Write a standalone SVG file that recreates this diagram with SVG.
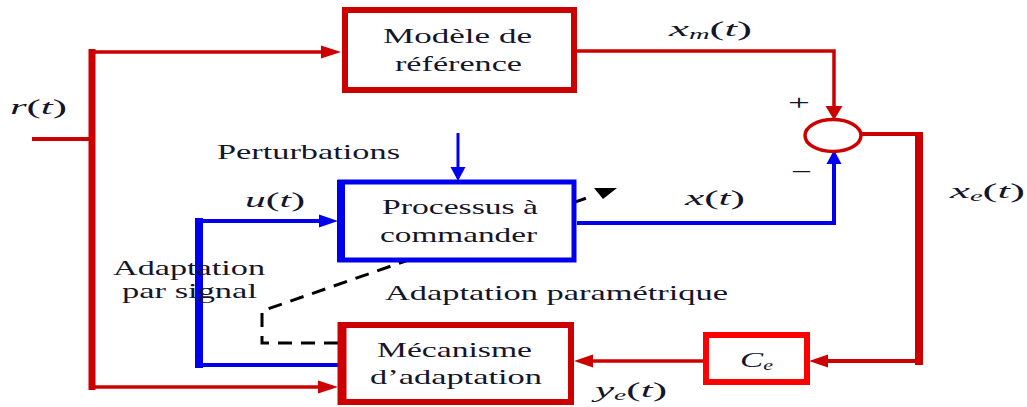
<svg xmlns="http://www.w3.org/2000/svg" width="1027" height="407" viewBox="0 0 1027 407">
  <style>
    .lbl { font-family: "Liberation Serif", "Times New Roman", serif; font-size: 22px; fill: #15152a; }
    .math { font-family: "Liberation Serif", "Times New Roman", serif; font-size: 22px; fill: #15152a; }
    .it { font-style: italic; }
    .sub { font-style: italic; font-size: 14px; }
    .red { stroke: #cc0000; fill: none; }
    .blue { stroke: #0000ee; fill: none; }
    .dash { stroke: #000; fill: none; stroke-width: 3; stroke-dasharray: 14 9; }
    .box-red { fill: #fff; stroke: #cc0000; stroke-width: 6; }
    .box-blue { fill: #fff; stroke: #0000ee; stroke-width: 5; }
    .box-ce { fill: #fff; stroke: #ff0000; stroke-width: 6; }
    .ahr { fill: #cc0000; }
    .ahb { fill: #0000ee; }
  </style>

  <!-- signal paths -->
  <g id="connectors">
    <!-- reference input r(t) and its trunk -->
    <line class="red" x1="32" y1="139" x2="92" y2="139" stroke-width="4"/>
    <line class="red" x1="92" y1="49" x2="92" y2="390" stroke-width="7"/>
    <line class="red" x1="92" y1="52" x2="322" y2="52" stroke-width="3.5"/>
    <polygon class="ahr" points="341,52 321,45.5 321,58.5"/>
    <line class="red" x1="92" y1="387" x2="319" y2="387" stroke-width="3.5"/>
    <polygon class="ahr" points="338,387 318,380.5 318,393.5"/>

    <!-- model output x_m(t) to the summing junction -->
    <polyline class="red" points="577,51 834,51 834,107" stroke-width="3.5"/>
    <polygon class="ahr" points="834,120 825.5,106 842.5,106"/>

    <!-- error x_e(t) back through C_e -->
    <line class="red" x1="861" y1="134" x2="919" y2="134" stroke-width="4"/>
    <line class="red" x1="919" y1="132" x2="919" y2="365" stroke-width="8"/>
    <line class="red" x1="919" y1="361" x2="826" y2="361" stroke-width="4"/>
    <polygon class="ahr" points="809,361 828,354.5 828,367.5"/>
    <line class="red" x1="703" y1="361" x2="591" y2="361" stroke-width="3.5"/>
    <polygon class="ahr" points="574,361 593,354.5 593,367.5"/>

    <!-- disturbance input -->
    <line class="blue" x1="458" y1="133" x2="458" y2="168" stroke-width="3"/>
    <polygon class="ahb" points="458,181 450.5,167 465.5,167"/>

    <!-- plant output x(t) -->
    <polyline class="blue" points="577,223 834,223 834,163" stroke-width="4"/>
    <polygon class="ahb" points="834,150 826.5,164 841.5,164"/>

    <!-- signal adaptation u(t) -->
    <polyline class="blue" points="338,365 199,365" stroke-width="4"/>
    <line class="blue" x1="199" y1="218" x2="199" y2="368" stroke-width="8"/>
    <line class="blue" x1="199" y1="221" x2="320" y2="221" stroke-width="4"/>
    <polygon class="ahb" points="338,221 319,214.5 319,227.5"/>

    <!-- parametric adaptation (passes beneath the plant block) -->
    <polyline class="dash" points="338,343 262,343 262,311 588,197.5"/>
    <polygon fill="#000" points="594,188 617,188 603,199"/>
  </g>

  <!-- reference model -->
  <g id="node-modele">
    <rect class="box-red" x="345" y="10" width="229" height="80"/>
    <text class="lbl" x="383" y="43" textLength="149" lengthAdjust="spacingAndGlyphs">Modèle de</text>
    <text class="lbl" x="395" y="71" textLength="127" lengthAdjust="spacingAndGlyphs">référence</text>
  </g>

  <!-- plant -->
  <g id="node-processus">
    <rect class="box-blue" x="340" y="182" width="234" height="78"/>
    <line stroke="#0000ee" stroke-width="8" x1="341" y1="180" x2="341" y2="262"/>
    <text class="lbl" x="382" y="214" textLength="156" lengthAdjust="spacingAndGlyphs">Processus à</text>
    <text class="lbl" x="380" y="242" textLength="157" lengthAdjust="spacingAndGlyphs">commander</text>
  </g>

  <!-- adaptation mechanism -->
  <g id="node-mecanisme">
    <rect class="box-red" x="341" y="325" width="230" height="77"/>
    <line stroke="#cc0000" stroke-width="9" x1="342" y1="322" x2="342" y2="405"/>
    <text class="lbl" x="377" y="357" textLength="155" lengthAdjust="spacingAndGlyphs">Mécanisme</text>
    <text class="lbl" x="370" y="384" textLength="172" lengthAdjust="spacingAndGlyphs">d’adaptation</text>
  </g>

  <!-- error gain -->
  <g id="node-ce">
    <rect class="box-ce" x="706" y="335" width="101" height="47"/>
    <text class="math" x="740" y="367" textLength="33" lengthAdjust="spacingAndGlyphs"><tspan class="it">C</tspan><tspan class="sub" dy="3">e</tspan></text>
  </g>

  <!-- summing junction -->
  <g id="node-somme">
    <ellipse cx="833" cy="135.5" rx="28" ry="16" fill="#fff" stroke="#cc0000" stroke-width="3.5"/>
    <text class="lbl" x="788" y="110" textLength="22" lengthAdjust="spacingAndGlyphs">+</text>
    <text class="lbl" x="791" y="179" textLength="21" lengthAdjust="spacingAndGlyphs">−</text>
  </g>

  <!-- free labels -->
  <g id="labels">
    <text class="lbl" x="217" y="159" textLength="183" lengthAdjust="spacingAndGlyphs">Perturbations</text>
    <text class="lbl" x="113" y="275" textLength="152" lengthAdjust="spacingAndGlyphs">Adaptation</text>
    <text class="lbl" x="122" y="298" textLength="135" lengthAdjust="spacingAndGlyphs">par signal</text>
    <text class="lbl" x="385" y="300" textLength="343" lengthAdjust="spacingAndGlyphs">Adaptation paramétrique</text>

    <text class="math" x="10" y="114" textLength="57" lengthAdjust="spacingAndGlyphs"><tspan class="it">r</tspan>(<tspan class="it">t</tspan>)</text>
    <text class="math" x="669" y="36" textLength="83" lengthAdjust="spacingAndGlyphs"><tspan class="it">x</tspan><tspan class="sub" dy="3">m</tspan><tspan dy="-3">(</tspan><tspan class="it">t</tspan>)</text>
    <text class="math" x="685" y="205" textLength="60" lengthAdjust="spacingAndGlyphs"><tspan class="it">x</tspan>(<tspan class="it">t</tspan>)</text>
    <text class="math" x="245" y="207" textLength="60" lengthAdjust="spacingAndGlyphs"><tspan class="it">u</tspan>(<tspan class="it">t</tspan>)</text>
    <text class="math" x="950" y="198" textLength="75" lengthAdjust="spacingAndGlyphs"><tspan class="it">x</tspan><tspan class="sub" dy="3">e</tspan><tspan dy="-3">(</tspan><tspan class="it">t</tspan>)</text>
    <text class="math" x="595" y="397" textLength="72" lengthAdjust="spacingAndGlyphs"><tspan class="it">y</tspan><tspan class="sub" dy="3">e</tspan><tspan dy="-3">(</tspan><tspan class="it">t</tspan>)</text>
  </g>
</svg>
